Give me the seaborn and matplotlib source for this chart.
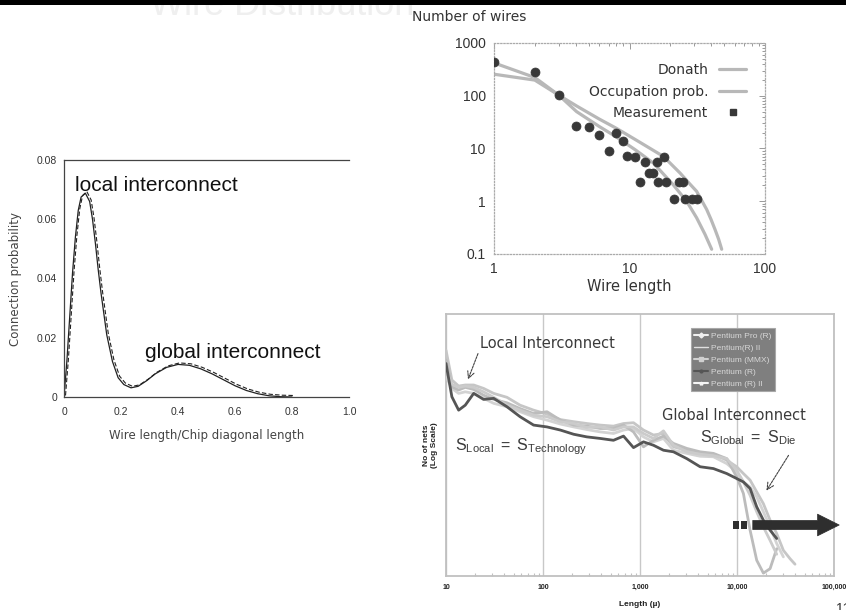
import numpy as np
import pandas as pd
import matplotlib
matplotlib.use("Agg")
import matplotlib.pyplot as plt
import matplotlib.ticker as mticker
from matplotlib.patches import Rectangle
from matplotlib.lines import Line2D
from matplotlib.transforms import ScaledTranslation
import seaborn as sns

# ---------------- Panel 1: connection probability ----------------
p1_len = [0.0, 0.01, 0.02, 0.03, 0.04, 0.05, 0.06, 0.075, 0.09, 0.10, 0.11, 0.12, 0.13, 0.15, 0.17,
          0.19, 0.21, 0.235, 0.26, 0.29, 0.32, 0.36, 0.40, 0.44, 0.48, 0.52, 0.56,
          0.60, 0.64, 0.68, 0.72, 0.76, 0.80]
p1_prob = [0.0, 0.012, 0.027, 0.042, 0.054, 0.063, 0.0675, 0.0688, 0.066, 0.060, 0.052, 0.043, 0.035,
           0.021, 0.012, 0.0065, 0.0042, 0.0031, 0.0036, 0.0055, 0.0078, 0.0100, 0.0110, 0.0107,
           0.0095, 0.0078, 0.0058, 0.0038, 0.0022, 0.0011, 0.0004, 0.0001, 0.0]
p1_xticks = [0, 0.2, 0.4, 0.6, 0.8, 1.0]
p1_xticklabels = ["0", "0.2", "0.4", "0.6", "0.8", "1.0"]
p1_yticks = [0, 0.02, 0.04, 0.06, 0.08]
p1_yticklabels = ["0", "0.02", "0.04", "0.06", "0.08"]

# ---------------- Panel 2: number of wires ----------------
donath_x = [1, 2, 3, 4.07, 6, 8.04, 12, 17.8, 23.6, 28, 31.3, 34, 37.1, 40, 42.8, 45.5, 47.9]
donath_y = [256, 198, 103, 64, 36, 24, 13, 7.07, 3.43, 2.1, 1.54, 1.05, 0.70, 0.45, 0.29, 0.19, 0.123]
occup_x = [1, 2, 3, 4.07, 6, 8.04, 11, 15, 21, 26.4, 31.3, 36.1, 40.4]
occup_y = [420, 222, 103, 50, 26, 16.4, 9.5, 5.3, 2.06, 1.0, 0.485, 0.235, 0.123]
meas_x = [1, 2, 3, 4, 5, 6, 7, 8, 9, 9.6, 11, 12, 13, 14, 15, 16, 16.3, 18, 18.6,
          21.3, 23.3, 25, 25.7, 28.8, 31.3]
meas_y = [437, 284, 103, 26.8, 25.9, 18.1, 9.0, 20, 13.6, 7.07, 7.0, 2.28, 5.5, 3.4, 3.4, 5.5, 2.28,
          6.85, 2.28, 1.12, 2.28, 2.28, 1.12, 1.12, 1.12]
p2_ticks_x = [1, 10, 100]
p2_ticks_y = [0.1, 1, 10, 100, 1000]
p2_ticklabels_y = ["0.1", "1", "10", "100", "1000"]

# ---------------- Panel 3: Pentium wire length distributions ----------------
length_u = [10, 11.5, 13.5, 15.8, 19.3, 24.4, 31, 42.5, 58, 80, 110, 151, 207, 283, 389, 533, 676,
            857, 1086, 1377, 1746, 2213, 3035, 4165, 5715, 7840, 9930, 11640, 13640, 15970, 18710,
            21930, 25660, 30060, 35220, 39640]
nan = np.nan
pentium_r = [81.1, 68.4, 63.3, 65.2, 69.7, 67.4, 67.8, 64.6, 60.8, 57.6, 56.9, 55.7, 54.1, 53.1, 52.5,
             51.8, 53.4, 49.0, 51.2, 49.9, 48.0, 47.4, 44.8, 41.7, 41.0, 39.1, 37.2, 35.9, 33.4, 26.4,
             21.3, 17.5, 14.3, nan, nan, nan]
pentium_pro = [86.2, 74.8, 72.5, 72.9, 72.9, 71.6, 69.7, 68.2, 65.2, 63.3, 61.8, 59.7, 58.9, 58.2, 57.6,
               57.2, 58.2, 58.5, 55.7, 53.8, 54.4, 49.3, 48.0, 47.0, 46.5, 44.2, 41.7, 39.1, 36.6, 32.1,
               27.6, 21.3, 16.2, 9.8, 6.6, 4.5]
pentium_ii_a = [76.1, 71.6, 69.7, 70.3, 69.7, 67.8, 65.9, 64.6, 62.7, 60.8, 59.5, 58.0, 56.9, 55.9, 55.0,
                54.4, 55.7, 56.3, 53.1, 51.2, 52.5, 48.0, 46.8, 45.7, 45.5, 42.9, 39.7, 35.9, 34.0, 30.2,
                24.5, 18.7, 12.4, 7.3, nan, nan]
pentium_mmx = [82.4, 72.2, 71.0, 72.0, 71.2, 69.0, 67.4, 66.1, 63.9, 62.0, 62.7, 59.5, 57.6, 57.2, 56.3,
               56.3, 57.6, 55.0, 49.3, 51.8, 53.4, 50.6, 48.7, 47.4, 46.8, 44.8, 37.8, 31.5, 17.5, 6.0,
               1.1, 2.8, 10.4, nan, nan, nan]
pentium_ii_b = [78.6, 73.2, 72.0, 72.5, 72.0, 70.3, 68.2, 65.2, 63.3, 61.4, 60.8, 58.9, 58.2, 56.7, 56.9,
                55.7, 56.9, 56.9, 54.4, 52.5, 55.4, 49.9, 47.4, 46.5, 45.9, 44.8, 40.4, 35.9, 30.8, 24.5,
                18.7, 13.6, 8.3, nan, nan, nan]
chip_names = ["Pentium Pro (R)", "Pentium(R) II", "Pentium (MMX)", "Pentium (R)", "Pentium (R) II"]
chip_series = [pentium_pro, pentium_ii_a, pentium_mmx, pentium_r, pentium_ii_b]
chip_colors = ["#c6c6c6", "#d3d3d3", "#bcbcbc", "#555555", "#cbcbcb"]
p3_ticks = [10, 100, 1000, 10000, 100000]
p3_ticklabels = ["10", "100", "1,000", "10,000", "100,000"]

# ---------------- figure ----------------
sns.set_theme(style="white")
plt.rcParams["font.family"] = ["Liberation Sans", "DejaVu Sans"]
plt.rcParams["mathtext.fontset"] = "custom"
plt.rcParams["mathtext.rm"] = "Liberation Sans"
plt.rcParams["mathtext.it"] = "Liberation Sans:italic"
plt.rcParams["mathtext.bf"] = "Liberation Sans:bold"

W, H = 846, 610
fig = plt.figure(figsize=(W / 100, H / 100), dpi=100)
fig.patch.set_facecolor("white")


def box(x, y, w, h):
    return [x / W, 1 - (y + h) / H, w / W, h / H]


def fx(x):
    return x / W


def fy(y):
    return 1 - y / H


# slide header band and faint title
fig.text(fx(282), fy(15), "Wire Distribution", fontsize=26, color="#efefef",
         ha="center", va="baseline", zorder=1)
fig.patches.append(Rectangle((0, fy(5)), 1, 5 / H, transform=fig.transFigure,
                             facecolor="black", edgecolor="none", zorder=20))

# ---- Panel 1 ----
ax1 = fig.add_axes(box(64, 160, 285, 237))
sns.lineplot(x=p1_len, y=p1_prob, ax=ax1, color="#222222", lw=0.9, sort=False)
off = ax1.transData + ScaledTranslation(1.5 / 100, 1.5 / 100, fig.dpi_scale_trans)
ax1.plot(p1_len, p1_prob, color="#222222", lw=0.8, ls=(0, (4, 2)), transform=off)
ax1.set_xlim(0, 1.0)
ax1.set_ylim(0, 0.08)
ax1.set_xticks(p1_xticks)
ax1.set_xticklabels(p1_xticklabels)
ax1.set_yticks(p1_yticks)
ax1.set_yticklabels(p1_yticklabels)
ax1.tick_params(axis="both", direction="in", length=4, width=0.8, colors="#333333",
                labelsize=7.5, labelcolor="#333333", pad=5)
ax1.tick_params(axis="x", pad=7)
for s in ["left", "bottom", "top"]:
    ax1.spines[s].set_visible(True)
    ax1.spines[s].set_color("#444444")
    ax1.spines[s].set_linewidth(0.9)
ax1.spines["right"].set_visible(False)
ax1.set_xlabel("Wire length/Chip diagonal length", fontsize=8.5, color="#444444", labelpad=9,
               family="DejaVu Sans")
ax1.set_ylabel("Connection probability", fontsize=8.5, color="#444444", labelpad=11,
               family="DejaVu Sans")
ax1.text(0.038, 0.0696, "local interconnect", fontsize=15, color="#111111", ha="left",
         va="baseline")
ax1.text(0.284, 0.0131, "global interconnect", fontsize=15, color="#111111", ha="left",
         va="baseline")
ax1.set_facecolor("white")

# ---- Panel 2 ----
ax2 = fig.add_axes(box(494, 43, 271, 211))
sns.lineplot(x=donath_x, y=donath_y, ax=ax2, color="#b8b8b8", lw=2.3, sort=False, label="Donath")
sns.lineplot(x=occup_x, y=occup_y, ax=ax2, color="#b8b8b8", lw=2.3, sort=False,
             label="Occupation prob.")
sns.scatterplot(x=meas_x, y=meas_y, ax=ax2, color="#383838", s=42, edgecolor="#383838",
                linewidth=0.5, zorder=5, label="Measurement")
ax2.set_xscale("log")
ax2.set_yscale("log")
ax2.set_xlim(1, 100)
ax2.set_ylim(0.1, 1000)
ax2.set_xticks(p2_ticks_x)
ax2.xaxis.set_major_formatter(mticker.FuncFormatter(lambda v, p: f"{v:g}"))
ax2.set_yticks(p2_ticks_y)
ax2.set_yticklabels(p2_ticklabels_y)
ax2.tick_params(axis="both", which="major", direction="in", length=4, width=0.7,
                colors="#999999", labelsize=10, labelcolor="#333333", top=True, right=True)
ax2.tick_params(axis="both", which="minor", direction="in", length=2.5, width=0.7,
                colors="#999999", top=True, right=True)
ax2.tick_params(axis="x", pad=6)
ax2.tick_params(axis="y", pad=6)
for s in ax2.spines.values():
    s.set_visible(True)
    s.set_color("#aaaaaa")
    s.set_linewidth(0.9)
    s.set_linestyle((0, (1, 1.5)))
ax2.set_xlabel("Wire length", fontsize=10.5, color="#333333", family="DejaVu Sans", labelpad=2)
ax2.set_ylabel("")
fig.text(fx(412), fy(17), "Number of wires", fontsize=10, color="#333333", ha="left", va="center",
         family="DejaVu Sans")
handles = [Line2D([], [], color="#b8b8b8", lw=2.3),
           Line2D([], [], color="#b8b8b8", lw=2.3),
           Line2D([], [], color="#383838", lw=0, marker="s", markersize=5)]
ax2.legend(handles, ["Donath", "Occupation prob.", "Measurement"], loc="upper right",
           bbox_to_anchor=(0.975, 0.965), frameon=False, markerfirst=False,
           handlelength=1.9, labelspacing=0.55, prop={"family": "DejaVu Sans", "size": 10},
           labelcolor="#333333")

# ---- Panel 3 ----
ax3 = fig.add_axes(box(446, 314, 388, 262))
for name, vals, col in zip(chip_names, chip_series, chip_colors):
    d = pd.DataFrame({"length": length_u, "nets": vals}).dropna()
    sns.lineplot(data=d, x="length", y="nets", ax=ax3, color=col, lw=2.0, sort=False,
                 zorder=4 if col == "#555555" else 3)
ax3.set_xscale("log")
ax3.set_xlim(10, 100000)
ax3.set_ylim(0, 100)
ax3.set_yticks([])
ax3.set_xticks(p3_ticks)
ax3.set_xticklabels(p3_ticklabels)
ax3.grid(axis="x", which="major", color="#c8c8c8", lw=1.0)
ax3.tick_params(axis="x", which="major", length=0, labelsize=5, labelcolor="#222222", pad=6)
ax3.tick_params(axis="x", which="minor", direction="in", length=2.5, width=0.8, colors="#c0c0c0",
                bottom=True)
for lbl in ax3.get_xticklabels():
    lbl.set_fontweight("bold")
for s in ax3.spines.values():
    s.set_visible(True)
    s.set_color("#c0c0c0")
    s.set_linewidth(1.3)
ax3.set_xlabel("Length (µ)", fontsize=6, fontweight="bold", color="#222222", labelpad=7)
ax3.set_ylabel("No of nets\n(Log Scale)", fontsize=6, fontweight="bold", color="#222222",
               labelpad=6, linespacing=1.1)
leg_handles = [
    Line2D([], [], color="#f0f0f0", lw=1.5, marker="D", markersize=2.5),
    Line2D([], [], color="#e0e0e0", lw=1.0),
    Line2D([], [], color="#d0d0d0", lw=1.5, marker="s", markersize=2.5),
    Line2D([], [], color="#555555", lw=1.5, marker="o", markersize=2),
    Line2D([], [], color="#f5f5f5", lw=1.5, marker="^", markersize=2),
]
leg3 = ax3.legend(leg_handles, chip_names, loc="upper left", bbox_to_anchor=(0.62, 0.962),
                  fontsize=6, frameon=True, fancybox=False, facecolor="#7f7f7f",
                  edgecolor="#a8a8a8", framealpha=1, handlelength=1.6, labelspacing=0.5,
                  borderpad=0.45, handletextpad=0.4, labelcolor="#d8d8d8")
leg3.get_frame().set_linewidth(0.8)

# annotations in panel 3
fig.text(fx(480), fy(343), "Local Interconnect", fontsize=10.5, color="#3a3a3a", ha="left",
         va="center", family="DejaVu Sans")
ax3.annotate("", xy=(fx(467), fy(382)), xycoords="figure fraction",
             xytext=(fx(479), fy(351)), textcoords="figure fraction",
             arrowprops=dict(arrowstyle="->", color="#444444", lw=0.8, ls=(0, (2, 1))))
fig.text(fx(662), fy(416), "Global Interconnect", fontsize=10.5, color="#3a3a3a", ha="left",
         va="center", family="DejaVu Sans")
fig.text(fx(700), fy(438), r"$\mathrm{S}_{\mathrm{Global}}\ =\ \mathrm{S}_{\mathrm{Die}}$",
         fontsize=11.5, color="#3a3a3a", ha="left", va="center")
ax3.annotate("", xy=(fx(765), fy(493)), xycoords="figure fraction",
             xytext=(fx(790), fy(453)), textcoords="figure fraction",
             arrowprops=dict(arrowstyle="->", color="#444444", lw=0.8, ls=(0, (2, 1))))
fig.text(fx(455), fy(447), r"$\mathrm{S}_{\mathrm{Local}}\ =\ \mathrm{S}_{\mathrm{Technology}}$",
         fontsize=11.5, color="#3a3a3a", ha="left", va="center")

# big black arrow toward large lengths
ax3.annotate("", xy=(fx(842), fy(525)), xycoords="figure fraction",
             xytext=(fx(750), fy(525)), textcoords="figure fraction",
             arrowprops=dict(arrowstyle="simple,head_length=1.3,head_width=1.3,tail_width=0.55",
                             mutation_scale=12, fc="#2e2e2e", ec="#2e2e2e", lw=0.5),
             annotation_clip=False, zorder=6)
for x0 in (733, 741):
    fig.patches.append(Rectangle((fx(x0), fy(529)), 6 / W, 8 / H, transform=fig.transFigure,
                                 facecolor="#2e2e2e", edgecolor="none", zorder=6))

fig.text(fx(836), fy(602), "11", fontsize=10, color="#333333", ha="left", va="top")

fig.savefig("out.png", dpi=100, facecolor="white")
